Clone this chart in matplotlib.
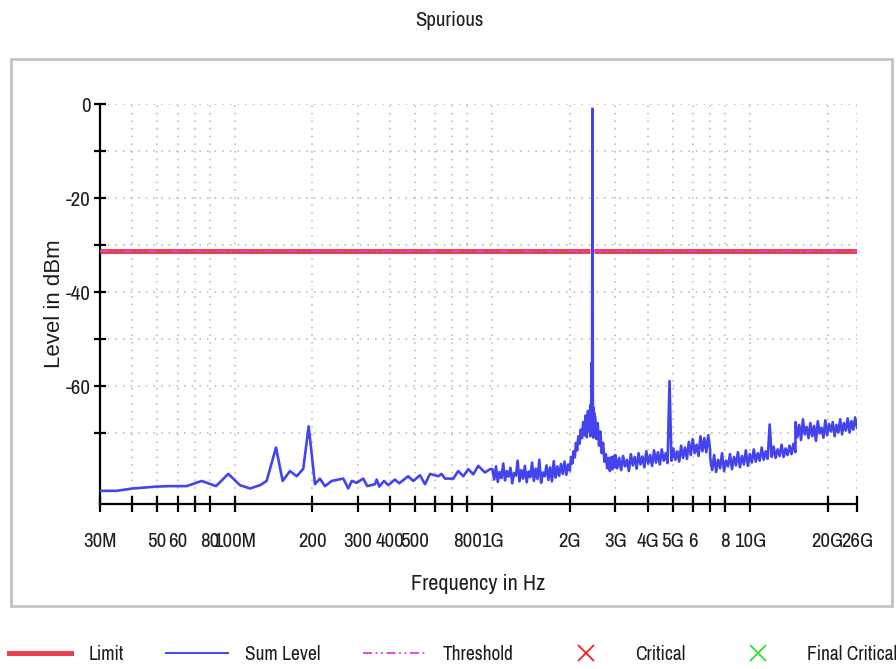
import numpy as np
import matplotlib
matplotlib.use("Agg")
import matplotlib.pyplot as plt
from matplotlib.lines import Line2D
from matplotlib.patches import Rectangle

plt.rcParams['font.family'] = ['Archivo Narrow', 'Liberation Sans', 'DejaVu Sans']

# --- data ---
# low band: explicit frequency points (MHz) and level (dBm)
low_f_mhz = [30, 34.8, 40.3, 49.8, 56, 65, 74.4, 84.6, 94.4, 104.8, 114.6, 125.4, 133,
             144.6, 153.5, 163.8, 174, 184.5, 193.6, 204.8, 214, 224, 237.9, 263.8,
             275.8, 284.5, 297.3, 315.3, 326.8, 350, 355.6, 363.9, 379.5, 394.4, 418.6,
             435, 471, 493, 523.6, 547.5, 572.6, 616.5, 635, 654.7, 705, 737, 771,
             806, 843, 881, 936, 979]
low_lvl = [-82.2, -82.2, -81.7, -81.3, -81.2, -81.2, -80.1, -81.2, -78.6, -81.0, -81.7,
           -81.0, -80.1, -73.0, -80.1, -78.0, -79.1, -77.5, -68.5, -80.8, -79.6, -81.2,
           -80.1, -79.6, -81.7, -80.1, -80.5, -79.6, -81.2, -80.8, -79.8, -81.3, -80.1,
           -81.0, -79.8, -80.6, -79.1, -80.1, -78.9, -80.8, -78.6, -79.1, -78.6, -79.6,
           -79.6, -78.0, -79.1, -77.6, -78.7, -76.9, -78.3, -77.6]

# dense sweep segments (start GHz, stop GHz, levels dBm)
seg_1g_2g = [-77.6, -79.8, -77.0, -80.3, -78.2, -79.5, -76.4, -80.0, -78.0, -79.2, -77.3,
             -80.6, -78.4, -79.0, -75.8, -80.2, -77.8, -79.6, -76.9, -80.4, -78.1, -79.3,
             -76.2, -80.1, -77.5, -79.7, -75.6, -80.5, -78.3, -79.1, -76.8, -79.9, -77.2,
             -80.2, -75.9, -79.4, -77.0, -79.0, -76.5, -78.6, -76.0, -78.8, -76.6, -77.9]
seg_2g_24g = [-77.2, -75.0, -76.4, -73.8, -75.1, -72.0, -73.6, -70.6, -72.2, -69.2, -71.0,
              -67.6, -70.4, -66.2, -70.8, -65.2, -69.6, -64.8]
seg_24g_25g = [-70.6, -63.8, -69.9, -55.0, -68.0, -1.0, -64.0, -70.9, -64.6, -70.4, -65.8, -69.8]
seg_25g_3g = [-66.4, -71.2, -67.8, -72.6, -69.6, -74.2, -72.0, -76.0, -74.4, -77.4, -75.2,
              -78.0, -75.0, -77.6, -74.8, -77.2]
seg_3g_7g = [-74.6, -77.4, -75.2, -77.8, -74.8, -77.0, -75.6, -78.0, -74.4, -76.8, -75.0,
             -77.5, -74.2, -76.6, -74.9, -77.2, -73.8, -76.4, -74.6, -76.9, -73.6, -76.2,
             -74.0, -76.6, -73.4, -75.8, -74.2, -76.3, -58.9, -75.8, -73.2, -75.6, -73.8,
             -76.0, -72.6, -75.2, -73.0, -75.4, -71.8, -74.6, -71.2, -74.2, -72.4, -74.8,
             -70.6, -73.8, -71.0, -74.0, -70.4, -73.6]
seg_7g_15g = [-75.2, -77.8, -74.6, -78.2, -75.6, -77.4, -74.2, -78.0, -75.8, -77.0, -74.4,
              -77.6, -75.0, -76.8, -74.0, -77.2, -74.8, -76.6, -73.6, -76.9, -74.4, -76.2,
              -73.4, -76.0, -74.2, -75.8, -73.0, -75.6, -73.8, -75.4, -68.1, -75.0, -72.8,
              -75.2, -73.4, -74.8, -72.4, -75.0, -73.2, -74.6, -72.6, -74.4, -72.2, -74.0]
seg_15g_26g = [-67.6, -70.8, -68.2, -71.4, -67.0, -70.2, -68.6, -71.0, -67.8, -70.6, -68.4,
               -71.6, -67.4, -70.0, -68.8, -70.9, -67.2, -70.4, -68.0, -69.6, -67.6, -70.6,
               -68.2, -69.8, -67.0, -70.2, -67.8, -69.4, -66.8, -69.8, -67.4, -69.2, -66.6, -68.8]
segments = [(1.0, 2.0, seg_1g_2g), (2.0, 2.4, seg_2g_24g), (2.4, 2.5, seg_24g_25g),
            (2.5, 3.0, seg_25g_3g), (3.0, 7.0, seg_3g_7g), (7.0, 15.0, seg_7g_15g),
            (15.0, 26.0, seg_15g_26g)]

limit_level = -31.3
limit_f = [30e6, 2.40e9, np.nan, 2.48e9, 26e9]

tick_f = [30e6, 40e6, 50e6, 60e6, 70e6, 80e6, 100e6, 200e6, 300e6, 400e6, 500e6, 600e6,
          700e6, 800e6, 1e9, 2e9, 3e9, 4e9, 5e9, 6e9, 7e9, 8e9, 10e9, 20e9, 26e9]
tick_lbl = ['30M', '', '50', '60', '', '80', '100M', '200', '300', '400', '500', '', '',
            '800', '1G', '2G', '3G', '4G', '5G', '6', '', '8', '10G', '20G', '26G']

# build the sweep
freq = list(np.array(low_f_mhz) * 1e6)
lvl = list(low_lvl)
for f0, f1, vals in segments:
    freq += list(np.geomspace(f0 * 1e9, f1 * 1e9, len(vals)))
    lvl += vals

blue = '#4444ee'
red = '#e8404f'
mag = '#e040e0'
txt = '#1e1e1e'

fig = plt.figure(figsize=(8.96, 6.69), dpi=100)
fig.patches.append(Rectangle((10.7 / 896, 1 - 606 / 669), (892 - 10.7) / 896, (606 - 59) / 669,
                             transform=fig.transFigure, fill=False, edgecolor='#c4c4c4', lw=2))
ax = fig.add_axes([100 / 896, 1 - 504 / 669, 757 / 896, 400 / 669])

lim_y = [limit_level if not np.isnan(f) else np.nan for f in limit_f]
ax.plot(limit_f, lim_y, color=red, lw=3.6, solid_capstyle='butt', zorder=3)
ax.plot(limit_f, lim_y, color=mag, lw=1.3, dashes=(5, 2, 1, 2, 1, 2), zorder=4)
ax.plot(freq, lvl, color=blue, lw=1.9, zorder=5)

ax.set_xscale('log')
ax.set_xlim(30e6, 26e9)
ax.set_ylim(-85, 0)
ax.set_xticks(tick_f)
ax.set_xticklabels(tick_lbl)
ax.xaxis.set_minor_locator(matplotlib.ticker.NullLocator())
ax.set_yticks([0, -10, -20, -30, -40, -50, -60, -70])
ax.set_yticklabels(['0', '', '-20', '', '-40', '', '-60', ''])

ax.grid(True, color='#b4b4b4', lw=1.1, linestyle=(0, (1, 4)))
for s in ['top', 'right']:
    ax.spines[s].set_visible(False)
for s in ['left', 'bottom']:
    ax.spines[s].set_linewidth(1.6)
ax.tick_params(axis='both', direction='inout', width=1.6, colors='black',
               labelcolor=txt, labelsize=15)
ax.tick_params(axis='x', length=12, pad=14)
ax.tick_params(axis='y', length=8, pad=3)

ax.set_xlabel('Frequency in Hz', fontsize=16, color=txt)
ax.xaxis.set_label_coords(0.5, -0.175)
ax.set_ylabel('Level in dBm', fontsize=16, color=txt, family=['Liberation Sans', 'DejaVu Sans'])
ax.yaxis.set_label_coords(-0.046, 0.5)

fig.text(0.502, 1 - 20 / 669, 'Spurious', ha='center', va='center', fontsize=15, color=txt)

handles = [Line2D([], [], color=red, lw=3.6),
           Line2D([], [], color=blue, lw=1.4),
           Line2D([], [], color=mag, lw=1.3, dashes=(5, 2, 1, 2, 1, 2)),
           Line2D([], [], color='#ee2222', marker='x', ls='none', ms=11, mew=1.3),
           Line2D([], [], color='#33dd33', marker='x', ls='none', ms=11, mew=1.3)]
labels = ['Limit', 'Sum Level', 'Threshold', 'Critical', 'Final Critical']
leg = fig.legend(handles, labels, loc='center left', bbox_to_anchor=(0.01, 1 - 654 / 669),
                 ncol=5, frameon=False, fontsize=14, handlelength=3.2, handletextpad=0.9,
                 columnspacing=2.15, borderpad=0, borderaxespad=0)
for t in leg.get_texts():
    t.set_color(txt)

fig.savefig('out.png', dpi=100, facecolor='white')
